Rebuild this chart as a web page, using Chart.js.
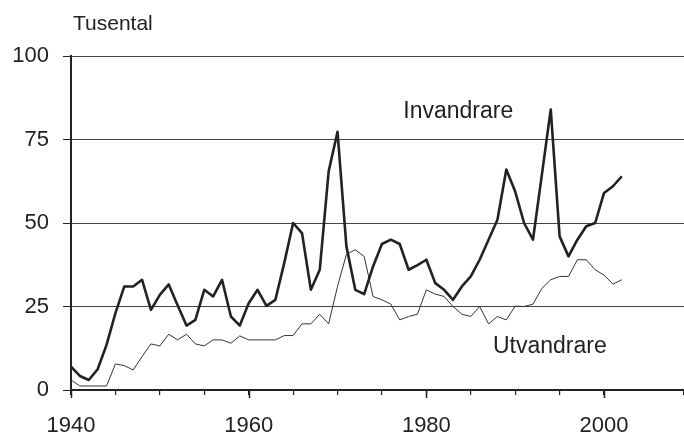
<!DOCTYPE html>
<html>
<head>
<meta charset="utf-8">
<script src="https://cdn.jsdelivr.net/npm/chart.js@4/dist/chart.umd.min.js"></script>
<style>
html,body{margin:0;padding:0;background:#fff;}
#wrap{width:684px;height:435px;position:relative;}
</style>
</head>
<body>
<div id="wrap"><canvas id="c" width="684" height="435"></canvas></div>
<script>
const years = [];
for (let y = 1940; y <= 2002; y++) years.push(y);

const invandrare = [
  7, 4.2, 3, 6.2, 13.5, 23, 31, 31, 33, 24,
  28.5, 31.6, 25.4, 19.3, 21, 30, 28, 33, 22, 19.3,
  26, 30, 25.2, 27, 38, 50, 47, 30, 36, 65.4,
  77.3, 43, 30, 28.7, 37, 43.7, 45, 43.7, 36, 37.4,
  39, 32, 30, 27, 31, 34, 39, 45, 51, 66,
  59.4, 50, 45, 64.4, 84, 46, 40, 45, 49, 50,
  59, 61, 64
];
const utvandrare = [
  3, 1.2, 1.2, 1.2, 1.2, 7.8, 7.3, 6, 10, 13.8,
  13.2, 16.7, 15, 16.7, 13.8, 13.2, 15, 15, 14, 16.2,
  15, 15, 15, 15, 16.3, 16.3, 19.8, 19.8, 22.7, 19.8,
  31, 40.6, 42, 40, 28, 27, 25.7, 21, 22, 22.7,
  30, 28.7, 28, 25, 22.7, 22, 25, 19.8, 22, 21,
  25.1, 25, 25.7, 30.4, 33, 34, 34, 39, 39, 36,
  34.4, 31.7, 33
];
const yTicks = [0, 25, 50, 75, 100];
const xLabelYears = [1940, 1960, 1980, 2000];
const unitLabel = 'Tusental';
const seriesNames = ['Invandrare', 'Utvandrare'];
const seriesLabelPos = [[1977.4, 81.4], [1987.5, 11.1]];

const FONT = '"Liberation Sans", Arial, sans-serif';

const annot = {
  id: 'annot',
  afterDraw(chart) {
    const ctx = chart.ctx;
    const xs = chart.scales.x, ys = chart.scales.y;
    ctx.save();
    ctx.strokeStyle = '#222';
    ctx.lineWidth = 1.5;
    xLabelYears.forEach(v => {
      const px = Math.round(xs.getPixelForValue(v)) + 0.5;
      ctx.beginPath();
      ctx.moveTo(px, ys.bottom);
      ctx.lineTo(px, ys.bottom + 8);
      ctx.stroke();
    });
    ctx.fillStyle = '#222';
    ctx.textBaseline = 'alphabetic';
    ctx.textAlign = 'left';
    ctx.font = '21px ' + FONT;
    ctx.fillText(unitLabel, xs.left + 2, 30);
    ctx.font = '23px ' + FONT;
    seriesNames.forEach((n, i) => {
      const p = seriesLabelPos[i];
      ctx.fillText(n, xs.getPixelForValue(p[0]), ys.getPixelForValue(p[1]));
    });
    ctx.restore();
  }
};

new Chart(document.getElementById('c'), {
  type: 'line',
  data: {
    datasets: [
      {
        label: seriesNames[0],
        data: years.map((y, i) => ({x: y, y: invandrare[i]})),
        borderColor: '#222',
        borderWidth: 2.6,
        borderJoinStyle: 'round',
        pointRadius: 0,
        tension: 0,
        fill: false
      },
      {
        label: seriesNames[1],
        data: years.map((y, i) => ({x: y, y: utvandrare[i]})),
        borderColor: '#333',
        borderWidth: 1,
        borderJoinStyle: 'round',
        pointRadius: 0,
        tension: 0,
        fill: false
      }
    ]
  },
  options: {
    responsive: false,
    animation: false,
    events: [],
    layout: {padding: {top: 56, left: 0, right: 0, bottom: 0}},
    plugins: {legend: {display: false}, tooltip: {enabled: false}, title: {display: false}},
    scales: {
      x: {
        type: 'linear',
        min: 1940,
        max: 2009,
        afterFit(s) { s.height = 45; s.paddingRight = 0; s.paddingLeft = 0; },
        border: {display: true, color: '#222', width: 2},
        grid: {drawOnChartArea: false, drawTicks: true, tickLength: 5, tickColor: '#222', lineWidth: 1.2},
        ticks: {
          stepSize: 5,
          autoSkip: false,
          maxRotation: 0,
          padding: 18,
          color: '#222',
          font: {family: FONT, size: 22},
          callback: v => xLabelYears.includes(v) ? String(v) : ''
        }
      },
      y: {
        min: 0,
        max: 100,
        afterFit(s) { s.width = 71; s.paddingTop = 0; s.paddingBottom = 0; },
        afterBuildTicks(s) { s.ticks = yTicks.map(v => ({value: v})); },
        border: {display: true, color: '#222', width: 2},
        grid: {color: '#444', lineWidth: 1, tickLength: 8, tickColor: '#222'},
        ticks: {
          padding: 14,
          color: '#222',
          font: {family: FONT, size: 22}
        }
      }
    }
  },
  plugins: [annot]
});
</script>
</body>
</html>
